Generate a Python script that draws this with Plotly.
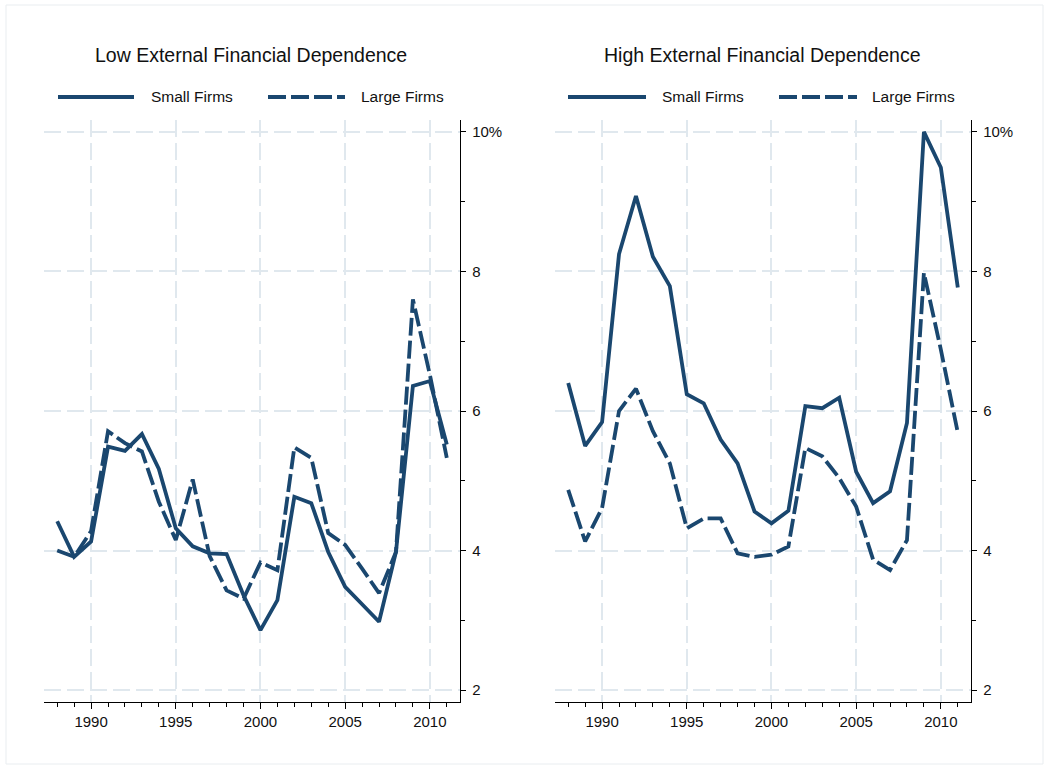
import plotly.graph_objects as go

years = list(range(1988, 2012))
low_small = [4.42, 3.91, 4.13, 5.49, 5.43, 5.67, 5.17, 4.32, 4.06, 3.96, 3.95, 3.36,
             2.86, 3.29, 4.77, 4.68, 3.98, 3.48, 3.23, 2.98, 3.98, 6.36, 6.43, 5.52]
low_large = [4.00, 3.91, 4.28, 5.71, 5.54, 5.42, 4.70, 4.15, 5.02, 3.92, 3.43, 3.31,
             3.83, 3.72, 5.48, 5.33, 4.25, 4.08, 3.74, 3.39, 3.98, 7.60, 6.52, 5.33]
high_small = [6.40, 5.50, 5.84, 8.25, 9.08, 8.21, 7.79, 6.24, 6.11, 5.59, 5.25, 4.56,
              4.39, 4.57, 6.07, 6.04, 6.19, 5.13, 4.68, 4.85, 5.83, 10.00, 9.49, 7.77]
high_large = [4.87, 4.13, 4.61, 6.00, 6.32, 5.71, 5.25, 4.32, 4.46, 4.46, 3.96, 3.91,
              3.94, 4.06, 5.47, 5.35, 5.04, 4.63, 3.87, 3.72, 4.15, 7.98, 6.88, 5.69]

panel_titles = ["Low External Financial Dependence", "High External Financial Dependence"]
series_names = ["Small Firms", "Large Firms"]
x_tickvals = [1990, 1995, 2000, 2005, 2010]
y_tickvals = [2, 4, 6, 8, 10]
y_ticktext = ["2", "4", "6", "8", "10%"]

W, H = 1049, 770
NAVY = "#1a476f"
GRID = "#e0e8ee"
DASH = "18px,5px"
FONT = "Liberation Sans, Arial, sans-serif"

def px(x):
    return x / W

def py(y):
    return 1 - y / H

fig = go.Figure()

panels = [
    dict(small=low_small, large=low_large, xa="x", ya="y"),
    dict(small=high_small, large=high_large, xa="x2", ya="y2"),
]

for p in panels:
    fig.add_trace(go.Scatter(x=years, y=p["small"], mode="lines", xaxis=p["xa"], yaxis=p["ya"],
                             line=dict(color=NAVY, width=3.8), name=series_names[0], showlegend=False))
    fig.add_trace(go.Scatter(x=years, y=p["large"], mode="lines", xaxis=p["xa"], yaxis=p["ya"],
                             line=dict(color=NAVY, width=3.8, dash=DASH), name=series_names[1], showlegend=False))

axis_common_x = dict(
    range=[1987.22, 2011.78], tickvals=x_tickvals, ticks="outside", ticklen=6, tickwidth=1.2,
    tickcolor="black", showline=True, linecolor="black", linewidth=1.3,
    showgrid=True, gridcolor=GRID, gridwidth=1.6, griddash="17px,6px", zeroline=False,
    tickfont=dict(family=FONT, size=15, color="#111"), ticklabelstandoff=0,
    minor=dict(dtick=1, tick0=1988, ticks="outside", ticklen=4, tickcolor="black", tickwidth=1.2, showgrid=False),
)
axis_common_y = dict(
    range=[1.83, 10.17], tickvals=y_tickvals, ticktext=y_ticktext, side="right",
    ticks="outside", ticklen=5, tickwidth=1.2, tickcolor="black",
    showline=True, linecolor="black", linewidth=1.3,
    showgrid=True, gridcolor=GRID, gridwidth=1.6, griddash="17px,6px", zeroline=False,
    tickfont=dict(family=FONT, size=15, color="#111"), ticklabelstandoff=3,
    minor=dict(dtick=1, tick0=1, ticks="outside", ticklen=4, tickcolor="black", tickwidth=1.2, showgrid=False),
)

ydom = [py(702), py(120)]
fig.update_layout(
    xaxis=dict(domain=[px(44), px(460)], anchor="y", **axis_common_x),
    yaxis=dict(domain=ydom, anchor="x", **axis_common_y),
    xaxis2=dict(domain=[px(555), px(971)], anchor="y2", **axis_common_x),
    yaxis2=dict(domain=ydom, anchor="x2", **axis_common_y),
)

shapes = []
annotations = []
# outer frame
shapes.append(dict(type="rect", xref="paper", yref="paper", x0=px(6), x1=px(1043), y0=py(764), y1=py(5),
                   line=dict(color="#e9edf0", width=1), fillcolor="rgba(0,0,0,0)", layer="below"))

legend_pos = [
    dict(title_x=251, s0=58, s1=134, st=149, l0=268, l1=345, lt=359),
    dict(title_x=762, s0=568, s1=646, st=660, l0=779, l1=857, lt=870),
]
for i, lp in enumerate(legend_pos):
    annotations.append(dict(text=panel_titles[i], x=px(lp["title_x"]), y=py(55), xref="paper", yref="paper",
                            xanchor="center", yanchor="middle", showarrow=False,
                            font=dict(family=FONT, size=19.5, color="#111")))
    shapes.append(dict(type="line", xref="paper", yref="paper", x0=px(lp["s0"]), x1=px(lp["s1"]),
                       y0=py(97), y1=py(97), line=dict(color=NAVY, width=4)))
    shapes.append(dict(type="line", xref="paper", yref="paper", x0=px(lp["l0"]), x1=px(lp["l1"]),
                       y0=py(97), y1=py(97), line=dict(color=NAVY, width=4, dash=DASH)))
    annotations.append(dict(text=series_names[0], x=px(lp["st"]), y=py(97), xref="paper", yref="paper",
                            xanchor="left", yanchor="middle", showarrow=False,
                            font=dict(family=FONT, size=15.5, color="#111")))
    annotations.append(dict(text=series_names[1], x=px(lp["lt"]), y=py(97), xref="paper", yref="paper",
                            xanchor="left", yanchor="middle", showarrow=False,
                            font=dict(family=FONT, size=15.5, color="#111")))

fig.update_layout(
    width=W, height=H, margin=dict(l=0, r=0, t=0, b=0),
    paper_bgcolor="white", plot_bgcolor="white",
    shapes=shapes, annotations=annotations, showlegend=False,
    font=dict(family=FONT),
)

fig.write_html("out.html", config={"displayModeBar": False},
               post_script="document.body.style.margin='0px';document.body.style.overflow='hidden';")
